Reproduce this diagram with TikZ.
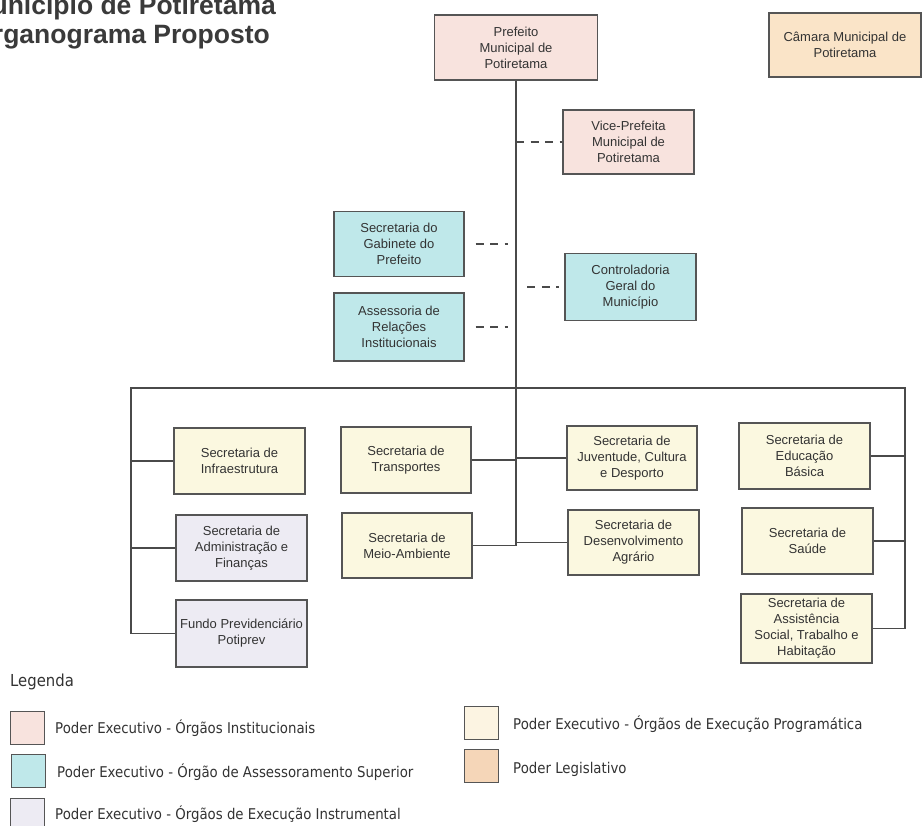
\documentclass[tikz,border=0pt]{standalone}
\usepackage{fontspec}
\setmainfont{Liberation Sans}
\newfontfamily\legfont[FakeStretch=0.9]{DejaVu Sans}
\definecolor{bordc}{HTML}{555555}
\definecolor{linec}{HTML}{4A4A4A}
\definecolor{txtc}{HTML}{333333}
\definecolor{titc}{HTML}{3A3A3A}
\definecolor{pinkf}{HTML}{F8E3DE}
\definecolor{camf}{HTML}{FAE4C8}
\definecolor{legisf}{HTML}{F5D6B8}
\definecolor{cyanf}{HTML}{BFE8EA}
\definecolor{yelf}{HTML}{FBF8E0}
\definecolor{creamf}{HTML}{FCF4E2}
\definecolor{lavf}{HTML}{EDEBF3}
\begin{document}
\begin{tikzpicture}[x=1pt,y=-1pt,
  box/.style={draw=bordc, line width=1.1pt, minimum width=131pt, minimum height=66pt,
    inner sep=2pt, align=center, text=txtc, font=\fontsize{13}{16}\selectfont},
  inst/.style={box, fill=pinkf},
  legis/.style={box, fill=camf},
  asses/.style={box, fill=cyanf},
  prog/.style={box, fill=yelf},
  instr/.style={box, fill=lavf},
  link/.style={draw=linec, line width=1.5pt},
  dashlink/.style={draw=linec, line width=2pt, dash pattern=on 8pt off 6.5pt},
  swatch/.style={draw=bordc, line width=0.8pt, minimum width=34pt, minimum height=33pt, inner sep=0pt},
  legtxt/.style={anchor=base west, inner sep=0pt, text=txtc, font=\legfont\fontsize{14.8}{17}\selectfont},
  titl/.style={anchor=base east, inner sep=0pt, text=titc, font=\fontsize{26.5}{30}\bfseries\selectfont}
]
\fill[white] (0,0) rectangle (923,825);
\useasboundingbox (0,0) rectangle (923,825);

% title
\node[titl] (t1) at (276,14) {Município de Potiretama};
\node[titl] (t2) at (270,43) {Organograma Proposto};

% top
\node[inst, minimum width=163pt, minimum height=65pt] (pref) at (516,47.5) {Prefeito\\Municipal de\\Potiretama};
\node[legis, minimum width=152pt, minimum height=64pt] (cam) at (845,45) {Câmara Municipal de\\Potiretama};
\node[inst, minimum height=64pt] (vice) at (628.5,142) {Vice-Prefeita\\Municipal de\\Potiretama};
\node[asses, minimum width=130pt, minimum height=65pt] (gab) at (399,244) {Secretaria do\\Gabinete do\\Prefeito};
\node[asses, minimum width=130pt, minimum height=68pt] (ass) at (399,327) {Assessoria de\\Relações\\Institucionais};
\node[asses, minimum height=67pt] (ctrl) at (630.5,287) {Controladoria\\Geral do\\Município};

% secretarias
\node[prog] (infra) at (239.5,461) {Secretaria de\\Infraestrutura};
\node[instr] (adm) at (241.5,548) {Secretaria de\\Administração e\\Finanças};
\node[instr, minimum height=67pt] (fundo) at (241.5,633.5) {Fundo Previdenciário\\Potiprev};
\node[prog, minimum width=130pt] (transp) at (406,460) {Secretaria de\\Transportes};
\node[prog, minimum width=130pt, minimum height=65pt] (meio) at (407,545.5) {Secretaria de\\Meio-Ambiente};
\node[prog, minimum width=130pt, minimum height=64pt] (juv) at (632,458) {Secretaria de\\Juventude, Cultura\\e Desporto};
\node[prog, minimum height=65pt] (des) at (633.5,542.5) {Secretaria de\\Desenvolvimento\\Agrário};
\node[prog] (edu) at (804.5,456) {Secretaria de\\Educação\\Básica};
\node[prog] (sau) at (807.5,541) {Secretaria de\\Saúde};
\node[prog, minimum height=69pt] (asist) at (806.5,628.5) {Secretaria de\\Assistência\\Social, Trabalho e\\Habitação};

% connectors
\coordinate (busL) at (131,388);
\coordinate (busR) at (905,388);
\draw[link] (pref.south) -- (pref.south |- meio.east);
\draw[dashlink] (vice.west -| pref.south) -- (vice.west);
\draw[dashlink] ([xshift=11pt]gab.east) -- ([xshift=43pt]gab.east);
\draw[dashlink] ([xshift=11pt]ass.east) -- ([xshift=43pt]ass.east);
\draw[dashlink] ([xshift=-37pt]ctrl.west) -- ([xshift=-5pt]ctrl.west);
\draw[link] (fundo.west -| busL) -- (busL) -- (busR) -- (asist.east -| busR);
\draw[link] (infra.west) -- (infra.west -| busL);
\draw[link] (adm.west) -- (adm.west -| busL);
\draw[link] (fundo.west) -- (fundo.west -| busL);
\draw[link] (transp.east) -- (transp.east -| pref.south);
\draw[link] (meio.east) -- (meio.east -| pref.south);
\draw[link] (juv.west) -- (juv.west -| pref.south);
\draw[link] (des.west) -- (des.west -| pref.south);
\draw[link] (edu.east) -- (edu.east -| busR);
\draw[link] (sau.east) -- (sau.east -| busR);
\draw[link] (asist.east) -- (asist.east -| busR);

% legend
\node[anchor=base west, inner sep=0pt, text=txtc, font=\legfont\fontsize{16.5}{19}\selectfont] (leg) at (10,686) {Legenda};
\node[swatch, fill=pinkf] (s1) at (27,727.5) {};
\node[swatch, fill=cyanf] (s2) at (28,770.5) {};
\node[swatch, fill=lavf] (s3) at (27,815) {};
\node[swatch, fill=creamf] (s4) at (481,723) {};
\node[swatch, fill=legisf] (s5) at (481,766) {};
\node[legtxt] (l1) at (55,733) {Poder Executivo - Órgãos Institucionais};
\node[legtxt] (l2) at (57,777) {Poder Executivo - Órgão de Assessoramento Superior};
\node[legtxt] (l3) at (55,819) {Poder Executivo - Órgãos de Execução Instrumental};
\node[legtxt] (l4) at (513,729) {Poder Executivo - Órgãos de Execução Programática};
\node[legtxt] (l5) at (513,773) {Poder Legislativo};
\end{tikzpicture}
\end{document}
